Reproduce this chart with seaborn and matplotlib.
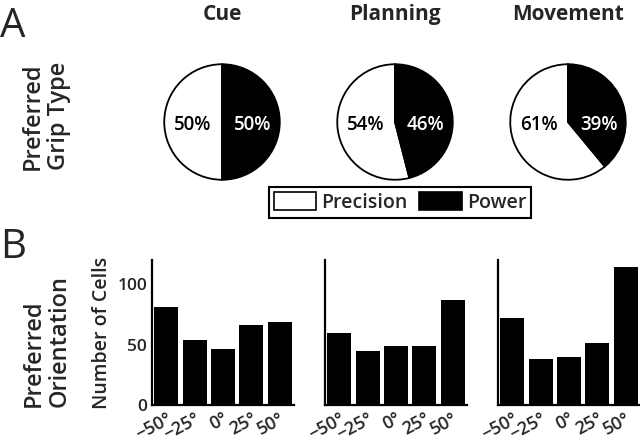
import matplotlib
matplotlib.use('Agg')
import matplotlib.pyplot as plt
import matplotlib.transforms as mtransforms
import seaborn as sns
import pandas as pd
from matplotlib.patches import Patch

# ---- data ----
epochs = ['Cue', 'Planning', 'Movement']
grip_types = ['Precision', 'Power']
precision_pct = [50, 54, 61]
power_pct = [50, 46, 39]
orient_labels = ['\u221250°', '\u221225°', '0°', '25°', '50°']
cue_counts = [81, 54, 46, 66, 69]
planning_counts = [60, 45, 49, 49, 87]
movement_counts = [72, 38, 40, 51, 114]
count_ticks = [0, 50, 100]

sns.set_style('white')
plt.rcParams['font.family'] = ['Open Sans', 'DejaVu Sans']
plt.rcParams['font.weight'] = 'semibold'
plt.rcParams['axes.labelweight'] = 'semibold'

W, H = 640, 437
fig = plt.figure(figsize=(6.4, 4.37), dpi=100)


def fx(px):
    return px / W


def fy(py):
    return 1 - py / H


# ---- panel A: pies ----
pie_cx = [222, 395, 568]
pie_cy = 122
pie_d = 119
for i, ep in enumerate(epochs):
    ax = fig.add_axes([fx(pie_cx[i] - pie_d / 2), fy(pie_cy + pie_d / 2),
                       pie_d / W, pie_d / H])
    ax.pie([precision_pct[i], power_pct[i]], colors=['white', 'black'],
           startangle=90, counterclock=True,
           wedgeprops=dict(edgecolor='black', linewidth=1.3))
    ax.set_xlim(-1.03, 1.03)
    ax.set_ylim(-1.03, 1.03)
    ax.set_aspect('equal')
    ax.text(-0.5, -0.06, f'{precision_pct[i]}%', ha='center', va='center',
            fontsize=13.5, color='black')
    ax.text(0.53, -0.06, f'{power_pct[i]}%', ha='center', va='center',
            fontsize=13.5, color='white')
    fig.text(fx(pie_cx[i]), fy(20), ep, ha='center', va='baseline',
             fontsize=15, fontweight='bold')

handles = [Patch(facecolor='white', edgecolor='black', linewidth=1.2),
           Patch(facecolor='black', edgecolor='black', linewidth=1.2)]
leg = fig.legend(handles, grip_types, loc='center', ncol=2,
                 bbox_to_anchor=(fx(400), fy(202.5)), fontsize=14,
                 frameon=True, fancybox=False, framealpha=1,
                 edgecolor='black', handlelength=2.2, handleheight=1.0,
                 handletextpad=0.25, columnspacing=0.6, borderpad=0.25,
                 borderaxespad=0)
leg.get_frame().set_linewidth(1.5)

# ---- panel B: bars ----
bar_left = [152, 325, 498]
bar_w = 142
for i, counts in enumerate([cue_counts, planning_counts, movement_counts]):
    ax = fig.add_axes([fx(bar_left[i]), fy(405), bar_w / W, 145 / H])
    df = pd.DataFrame({'orientation': orient_labels, 'cells': counts})
    sns.barplot(data=df, x='orientation', y='cells', color='black',
                saturation=1, width=0.85, linewidth=0, ax=ax)
    ax.set_xlim(-0.5, 4.5)
    ax.set_ylim(0, 120)
    ax.set_yticks(count_ticks)
    ax.set_xticks(range(len(orient_labels)))
    ax.set_xticklabels(orient_labels, rotation=28, ha='right',
                       rotation_mode='anchor', fontsize=13,
                       fontweight='semibold')
    offset = mtransforms.ScaledTranslation(10 / 100, 0, fig.dpi_scale_trans)
    for lab in ax.get_xticklabels():
        lab.set_transform(lab.get_transform() + offset)
    ax.set_xlabel('')
    if i == 0:
        ax.set_ylabel('Number of Cells', fontsize=14, labelpad=4,
                      fontweight='semibold')
        ax.tick_params(axis='y', labelsize=12.5)
        for lab in ax.get_yticklabels():
            lab.set_fontweight('semibold')
    else:
        ax.set_ylabel('')
        ax.tick_params(axis='y', labelleft=False)
    ax.tick_params(axis='y', direction='in', length=4, width=1.2, color='black')
    ax.tick_params(axis='x', length=0, pad=3)
    sns.despine(ax=ax)
    for s in ['left', 'bottom']:
        ax.spines[s].set_linewidth(1.6)
        ax.spines[s].set_color('black')
    ax.set_facecolor('none')

# ---- panel letters and row labels ----
fig.text(0.0, fy(37), 'A', fontsize=29, ha='left', va='baseline',
         fontweight='medium')
fig.text(0.0, fy(258), 'B', fontsize=29, ha='left', va='baseline',
         fontweight='medium')
fig.text(fx(46), fy(170), 'Preferred\nGrip Type', rotation=90, ha='center',
         va='bottom', multialignment='left', fontsize=17, linespacing=1.1)
fig.text(fx(47), fy(407), 'Preferred\nOrientation', rotation=90, ha='center',
         va='bottom', multialignment='left', fontsize=17, linespacing=1.1)

fig.savefig('out.png', dpi=100)
